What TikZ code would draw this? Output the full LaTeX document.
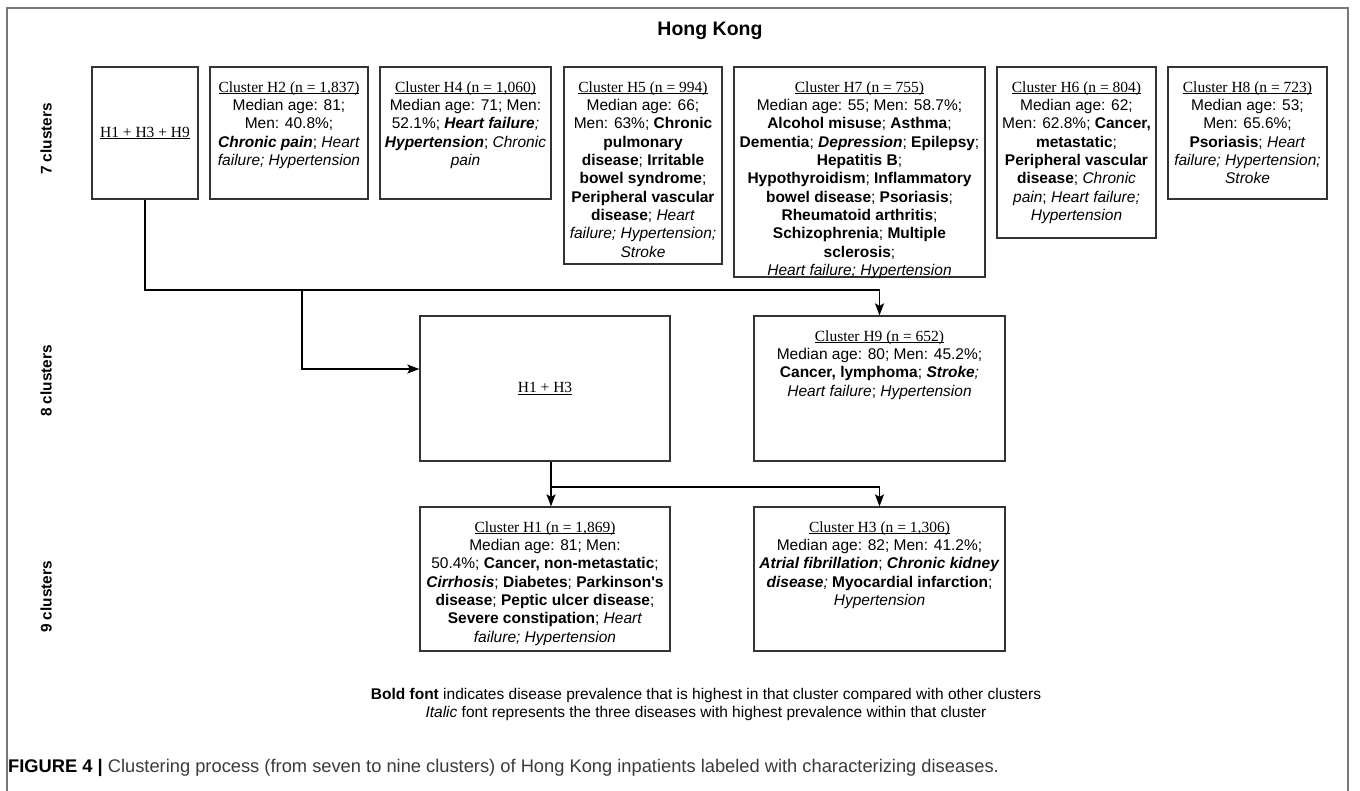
\documentclass[tikz,border=0pt]{standalone}
\usepackage{fontspec}
\setmainfont{Liberation Sans}
\newfontfamily\serf{Liberation Serif}
\usetikzlibrary{arrows.meta}
\newcommand\ttl[1]{{\serf\setbox0\hbox{#1}\rlap{\rule[-1.8pt]{\wd0}{0.8pt}}\box0}}
\newcommand\bit[1]{\textbf{\textit{#1}}}
\definecolor{framegray}{HTML}{777777}
\definecolor{boxgray}{HTML}{333333}
\definecolor{capgray}{HTML}{3A3A3A}
\tikzset{
  cbox/.style={draw=boxgray, line width=1.3pt, inner sep=0pt, rectangle},
  tx/.style={align=center, inner sep=0pt, anchor=north, font=\fontsize{15.5}{18.3}\selectfont},
  arr/.style={draw=black, line width=1.3pt, -{Stealth[length=12pt,width=9pt,inset=2.5pt]}},
  rowlab/.style={rotate=90, font=\bfseries\fontsize{15.4}{18}\selectfont}
}
\begin{document}
\begin{tikzpicture}[x=1pt,y=-1pt]
\useasboundingbox (0,0) rectangle (1360,790);
% outer frame
\draw[framegray, line width=1.3pt] (7,792) -- (7,8) -- (1348,8) -- (1348,792);
% title
\node[font=\bfseries\fontsize{19.5}{22}\selectfont] (title) at (710,31) {Hong Kong};
% row labels
\node[rowlab] (r7) at (46,139) {7 clusters};
\node[rowlab] (r8) at (46,381) {8 clusters};
\node[rowlab] (r9) at (46,597) {9 clusters};
% boxes top row
\node[cbox, minimum width=106pt, minimum height=132pt] (A) at (145,133) {};
\node[font=\fontsize{15.5}{18.3}\selectfont] (Atx) at (145,133) {\ttl{H1 + H3 + H9}};
\node[cbox, minimum width=158pt, minimum height=132pt] (H2) at (289,133) {};
\node[tx] (H2tx) at (289,81.4) {\ttl{Cluster H2 (n = 1,837)}\\
Median age: 81;\\
Men: 40.8\%;\\
\bit{Chronic pain}; \textit{Heart}\\
\textit{failure; Hypertension}};
\node[cbox, minimum width=171pt, minimum height=132pt] (H4) at (465.5,133) {};
\node[tx] (H4tx) at (465.5,81.4) {\ttl{Cluster H4 (n = 1,060)}\\
Median age: 71; Men:\\
52.1\%; \bit{Heart failure}\textit{;}\\
\bit{Hypertension}; \textit{Chronic}\\
\textit{pain}};
\node[cbox, minimum width=158pt, minimum height=197pt] (H5) at (643,165.5) {};
\node[tx] (H5tx) at (643,81.4) {\ttl{Cluster H5 (n = 994)}\\
Median age: 66;\\
Men: 63\%; \textbf{Chronic}\\
\textbf{pulmonary}\\
\textbf{disease}; \textbf{Irritable}\\
\textbf{bowel syndrome};\\
\textbf{Peripheral vascular}\\
\textbf{disease}; \textit{Heart}\\
\textit{failure; Hypertension;}\\
\textit{Stroke}};
\node[cbox, minimum width=251pt, minimum height=210pt] (H7) at (859.5,172) {};
\node[tx] (H7tx) at (859.5,81.4) {\ttl{Cluster H7 (n = 755)}\\
Median age: 55; Men: 58.7\%;\\
\textbf{Alcohol misuse}; \textbf{Asthma};\\
\textbf{Dementia}; \bit{Depression}; \textbf{Epilepsy};\\
\textbf{Hepatitis B};\\
\textbf{Hypothyroidism}; \textbf{Inflammatory}\\
\textbf{bowel disease}; \textbf{Psoriasis};\\
\textbf{Rheumatoid arthritis};\\
\textbf{Schizophrenia}; \textbf{Multiple}\\
\textbf{sclerosis};\\
\textit{Heart failure; Hypertension}};
\node[cbox, minimum width=159pt, minimum height=171pt] (H6) at (1076.5,152.5) {};
\node[tx] (H6tx) at (1076.5,81.4) {\ttl{Cluster H6 (n = 804)}\\
Median age: 62;\\
Men: 62.8\%; \textbf{Cancer,}\\
\textbf{metastatic};\\
\textbf{Peripheral vascular}\\
\textbf{disease}; \textit{Chronic}\\
\textit{pain}; \textit{Heart failure;}\\
\textit{Hypertension}};
\node[cbox, minimum width=159pt, minimum height=132pt] (H8) at (1247.5,133) {};
\node[tx] (H8tx) at (1247.5,81.4) {\ttl{Cluster H8 (n = 723)}\\
Median age: 53;\\
Men: 65.6\%;\\
\textbf{Psoriasis}; \textit{Heart}\\
\textit{failure; Hypertension;}\\
\textit{Stroke}};
% middle row
\node[cbox, minimum width=250pt, minimum height=145pt] (B) at (545,388.5) {};
\node[font=\fontsize{15.5}{18.3}\selectfont] (Btx) at (545,388.5) {\ttl{H1 + H3}};
\node[cbox, minimum width=251pt, minimum height=145pt] (H9) at (879.5,388.5) {};
\node[tx] (H9tx) at (879.5,330.4) {\ttl{Cluster H9 (n = 652)}\\
Median age: 80; Men: 45.2\%;\\
\textbf{Cancer, lymphoma}; \bit{Stroke}\textit{;}\\
\textit{Heart failure}; \textit{Hypertension}};
% bottom row
\node[cbox, minimum width=250pt, minimum height=144pt] (H1) at (545,579) {};
\node[tx] (H1tx) at (545,521.4) {\ttl{Cluster H1 (n = 1,869)}\\
Median age: 81; Men:\\
50.4\%; \textbf{Cancer, non-metastatic};\\
\bit{Cirrhosis}; \textbf{Diabetes}; \textbf{Parkinson\textquotesingle s}\\
\textbf{disease}; \textbf{Peptic ulcer disease};\\
\textbf{Severe constipation}; \textit{Heart}\\
\textit{failure; Hypertension}};
\node[cbox, minimum width=251pt, minimum height=144pt] (H3) at (879.5,579) {};
\node[tx] (H3tx) at (879.5,521.4) {\ttl{Cluster H3 (n = 1,306)}\\
Median age: 82; Men: 41.2\%;\\
\bit{Atrial fibrillation}; \bit{Chronic kidney}\\
\bit{disease}\textit{;} \textbf{Myocardial infarction};\\
\textit{Hypertension}};
% connectors
\coordinate (j0) at (145,290);
\coordinate (j1) at (302,290);
\coordinate (j2) at (302,369);
\draw[arr] (A.south) -- (j0) -| (H9.north);
\draw[arr] (j1) -- (j2) -- (B.west |- j2);
\coordinate (k1) at (551,487);
\draw[arr] ([xshift=6pt]B.south) -- ([xshift=6pt]H1.north);
\draw[arr] (k1) -| (H3.north);
% footnote
\node[align=center, font=\fontsize{15.5}{18}\selectfont] (note) at (706,704) {\textbf{Bold font} indicates disease prevalence that is highest in that cluster compared with other clusters\\
\textit{Italic} font represents the three diseases with highest prevalence within that cluster};
% caption
\node[anchor=west, inner sep=0pt, font=\fontsize{18.3}{21}\selectfont, text=capgray] (cap) at (8,768) {\textbf{\color{black}FIGURE 4 |} Clustering process (from seven to nine clusters) of Hong Kong inpatients labeled with characterizing diseases.};
\end{tikzpicture}
\end{document}
